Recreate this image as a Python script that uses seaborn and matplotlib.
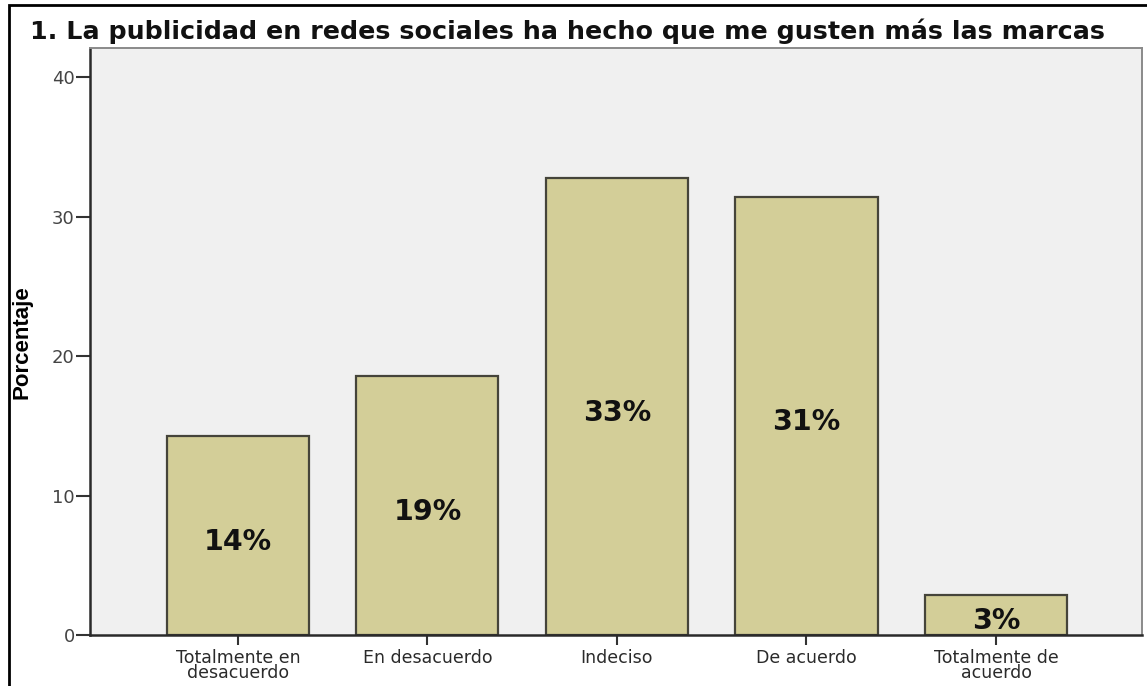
import matplotlib
matplotlib.use("Agg")
import matplotlib.pyplot as plt
import matplotlib.patches as mpatches
import seaborn as sns
import pandas as pd

# Survey item: "La publicidad en redes sociales ha hecho que me gusten más las marcas"
categories = [
    "Totalmente en\ndesacuerdo",
    "En desacuerdo",
    "Indeciso",
    "De acuerdo",
    "Totalmente de\nacuerdo",
]
percentages = [14.3, 18.6, 32.8, 31.4, 2.9]
y_ticks = [0, 10, 20, 30, 40]
title_text = "1. La publicidad en redes sociales ha hecho que me gusten más las marcas"
y_label = "Porcentaje"

df = pd.DataFrame({"categoria": categories, "porcentaje": percentages})

sns.set_theme(style="white")
plt.rcParams["font.family"] = ["DejaVu Sans"]

W, H = 1147, 686
fig = plt.figure(figsize=(W / 100, H / 100), dpi=100)
fig.patch.set_facecolor("white")

ax = fig.add_axes([90 / W, 1 - 635 / H, (1142 - 90) / W, (635 - 48) / H])
ax.set_facecolor("#F0F0F0")

sns.barplot(
    data=df, x="categoria", y="porcentaje", ax=ax,
    color="#D3CE98", saturation=1, width=0.75,
    edgecolor="#45443A", linewidth=1.6,
)

ax.set_xlim(-0.78, 4.77)
ax.set_ylim(0, 42.1)
ax.set_yticks(y_ticks)
ax.set_yticklabels([str(t) for t in y_ticks], fontsize=13, color="#444444")
ax.set_xticks(range(len(categories)))
ax.set_xticklabels(categories, fontsize=12.5, color="#2a2a2a", linespacing=0.78)
ax.tick_params(axis="y", direction="out", length=10, width=1.5, color="#333333", pad=1, left=True)
ax.tick_params(axis="x", direction="out", length=7, width=1.5, color="#333333", pad=3, bottom=True)

ax.set_xlabel("")
ax.set_ylabel(y_label, fontsize=16, fontweight="bold", color="black",
              family=["Liberation Sans", "DejaVu Sans"])
ax.yaxis.set_label_coords(-(90 - 22) / (1142 - 90), (635 - 342) / (635 - 48))
ax.yaxis.label.set_va("center")

for side in ("left", "bottom"):
    ax.spines[side].set_color("#2a2a2a")
    ax.spines[side].set_linewidth(1.8)
for side in ("top", "right"):
    ax.spines[side].set_color("#8a8a8a")
    ax.spines[side].set_linewidth(1.4)

# percentage labels in the middle of each bar
for i, v in enumerate(percentages):
    ax.annotate(f"{v:.0f}%", xy=(i, v / 2), xytext=(0, -4.5), textcoords="offset points",
                ha="center", va="center", fontsize=20.5, fontweight="bold", color="#111111")

fig.text(30 / W, 1 - 31 / H, title_text, ha="left", va="center",
         fontsize=18.3, fontweight="bold", color="#111111")

# frame around the chart
frame = mpatches.Rectangle((9 / W, -0.05), 1.2, 1.05 - 5 / H, transform=fig.transFigure,
                           fill=False, edgecolor="black", linewidth=2)
fig.patches.append(frame)

fig.savefig("out.png", dpi=100)
